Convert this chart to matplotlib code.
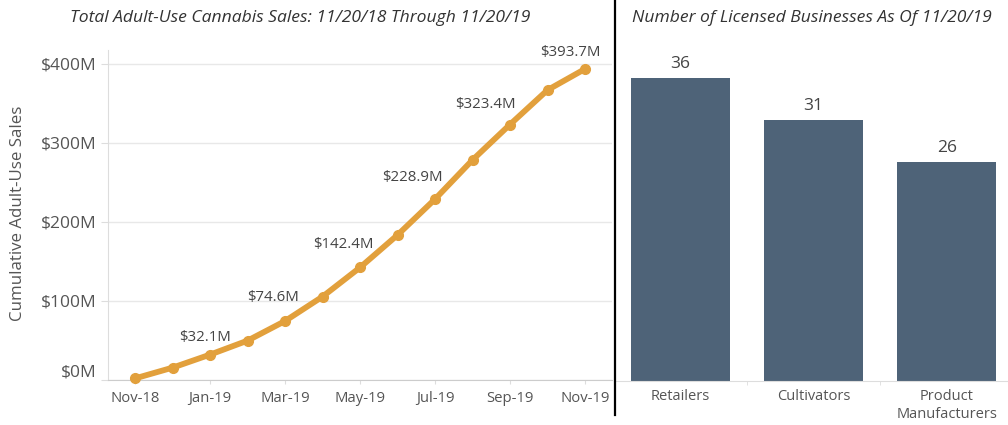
import matplotlib
matplotlib.use("Agg")
import matplotlib.pyplot as plt
from matplotlib.lines import Line2D
import numpy as np

plt.rcParams['font.family'] = ['Open Sans', 'DejaVu Sans']

# cumulative adult-use sales, $M, monthly from Nov-18 to Nov-19
months = ['Nov-18', 'Dec-18', 'Jan-19', 'Feb-19', 'Mar-19', 'Apr-19', 'May-19',
          'Jun-19', 'Jul-19', 'Aug-19', 'Sep-19', 'Oct-19', 'Nov-19']
sales = [2.0, 15.6, 32.1, 49.8, 74.6, 105.5, 142.4, 183.5, 228.9, 278.5, 323.4, 367.0, 393.7]
labelled = [2, 4, 6, 8, 10, 12]

# licensed businesses as of 11/20/19
categories = ['Retailers', 'Cultivators', 'Product\nManufacturers']
counts = [36, 31, 26]

gold = '#E2A03C'
slate = '#4E6378'
txt = '#555555'
grid = '#E8E8E8'

fig = plt.figure(figsize=(10.08, 4.25), dpi=100)

# ---- left: cumulative sales line ----
ax = fig.add_axes([108/1008, 1 - 380/425, 504/1008, 330/425])
x = np.arange(len(months))
ax.plot(x, sales, color=gold, lw=4.2, marker='o', ms=7, solid_capstyle='round',
        clip_on=False, zorder=3)

# (dx, dy) in pixels for the value labels
offs = [(-5, 17), (-12, 24), (-17, 23), (-23, 22), (-25, 20), (-15, 16)]
for i, (dx, dy) in zip(labelled, offs):
    ax.annotate('$%.1fM' % sales[i], (x[i], sales[i]), xytext=(dx, dy),
                textcoords='offset pixels', ha='center', va='center',
                fontsize=10.8, color='#444444')

ax.set_xlim(-0.72, 12.72)
ax.set_ylim(0, 417.7)
ax.set_yticks([0, 100, 200, 300, 400])
ax.set_yticklabels(['$%dM' % v for v in [0, 100, 200, 300, 400]])
ax.set_xticks(x[::2])
ax.set_xticklabels(months[::2])
ax.yaxis.grid(True, color=grid, lw=1)
ax.set_axisbelow(True)
for s in ['top', 'right']:
    ax.spines[s].set_visible(False)
ax.spines['left'].set_color('#DDDDDD')
ax.spines['bottom'].set_color('#CCCCCC')
ax.tick_params(axis='y', length=5, color='#DDDDDD', labelsize=12.5, labelcolor=txt, pad=3)
ax.tick_params(axis='x', length=3, color='#DDDDDD', labelsize=10.7, labelcolor=txt, pad=5)
ax.get_yticklabels()[0].set_va('bottom')
ax.set_ylabel('Cumulative Adult-Use Sales', fontsize=12.2, color=txt)
ax.yaxis.set_label_coords(-0.162, 0.506)
fig.text(300/1008, 1 - 18/425, 'Total Adult-Use Cannabis Sales: 11/20/18 Through 11/20/19',
         ha='center', va='center', fontsize=12.6, style='italic', color='#333333')

# ---- right: licensed businesses bars ----
bx = fig.add_axes([615/1008, 1 - 381/425, 393/1008, 331/425])
pos = np.arange(len(categories))
bars = bx.bar(pos, counts, width=0.745, color=slate)
for b, c in zip(bars, counts):
    bx.annotate(str(c), (b.get_x() + b.get_width() / 2, c), xytext=(0, 6),
                textcoords='offset pixels', ha='center', va='bottom',
                fontsize=12.5, color='#444444')
bx.set_xlim(-0.49, 2.46)
bx.set_ylim(0, 39.3)
bx.set_yticks([])
bx.set_xticks(pos)
bx.set_xticklabels(categories)
bx.set_xticks([0.5, 1.5], minor=True)
bx.tick_params(axis='x', which='major', length=0, labelsize=10.5, labelcolor=txt, pad=6)
bx.tick_params(axis='x', which='minor', length=3, color='#DDDDDD')
for s in ['top', 'right', 'left']:
    bx.spines[s].set_visible(False)
bx.spines['bottom'].set_color('#DDDDDD')
fig.text(812/1008, 1 - 18/425, 'Number of Licensed Businesses As Of 11/20/19',
         ha='center', va='center', fontsize=12.6, style='italic', color='#333333')

# divider between the two panels
fig.add_artist(Line2D([615/1008, 615/1008], [1 - 415/425, 1.0], color='black', lw=1.6))

fig.savefig('out.png', dpi=100)
